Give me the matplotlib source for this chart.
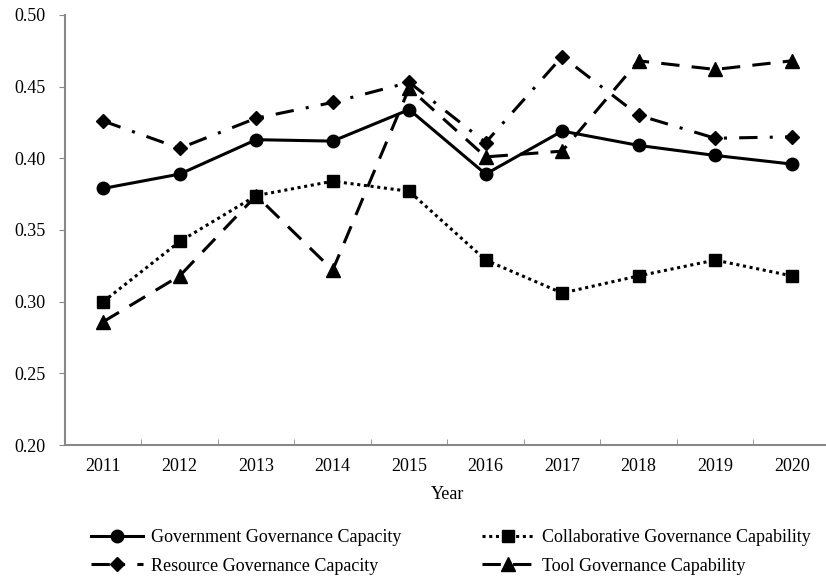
import matplotlib
matplotlib.use('Agg')
import matplotlib.pyplot as plt
import numpy as np

plt.rcParams['font.family'] = ['Liberation Serif', 'DejaVu Serif']

years = ['2011', '2012', '2013', '2014', '2015', '2016', '2017', '2018', '2019', '2020']
government = [0.379, 0.389, 0.413, 0.412, 0.434, 0.389, 0.419, 0.409, 0.402, 0.396]
collaborative = [0.300, 0.342, 0.374, 0.384, 0.377, 0.329, 0.306, 0.318, 0.329, 0.318]
resource = [0.426, 0.407, 0.428, 0.439, 0.453, 0.411, 0.471, 0.430, 0.414, 0.415]
tool = [0.286, 0.318, 0.374, 0.322, 0.449, 0.401, 0.405, 0.468, 0.462, 0.468]
y_ticks = [0.20, 0.25, 0.30, 0.35, 0.40, 0.45, 0.50]

fig = plt.figure(figsize=(8.26, 5.78), dpi=100)
ax = fig.add_axes([0.0787, 0.2301, 0.926, 0.744])

x = np.arange(len(years))
l_gov, = ax.plot(x, government, color='black', linestyle='-', linewidth=2.2,
                 marker='o', markersize=9, label='Government Governance Capacity')
l_col, = ax.plot(x, collaborative, color='black', linestyle=(0, (1, 1.2)), linewidth=2.2,
                 marker='s', markersize=9, label='Collaborative Governance Capability')
l_res, = ax.plot(x, resource, color='black', linestyle=(0, (6, 4, 1, 4)), linewidth=2.2,
                 marker='D', markersize=7.5, label='Resource Governance Capacity')
l_tool, = ax.plot(x, tool, color='black', linestyle=(0, (6, 4)), linewidth=2.2,
                  marker='^', markersize=9.5, label='Tool Governance Capability')

ax.set_xlim(-0.5, len(years) - 0.5)
ax.set_ylim(0.20, 0.50)
ax.set_xticks(x)
ax.set_xticklabels(years)
ax.set_xticks(np.arange(0.5, len(years) - 0.5, 1), minor=True)
ax.set_yticks(y_ticks)
ax.set_yticklabels(['%.2f' % v for v in y_ticks])
ax.tick_params(axis='x', which='major', length=0, labelsize=13, pad=9)
ax.tick_params(axis='x', which='minor', length=4, direction='in', color='#888888')
ax.tick_params(axis='y', length=4, direction='out', color='#888888', labelsize=13, pad=10)

for s in ['top', 'right']:
    ax.spines[s].set_visible(False)
for s in ['left', 'bottom']:
    ax.spines[s].set_color('#888888')
    ax.spines[s].set_linewidth(1.5)

ax.set_xlabel('Year', fontsize=13, labelpad=8)

# legend fills column-wise, so order gives rows Gov/Collab then Resource/Tool
fig.legend([l_gov, l_res, l_col, l_tool],
           [l.get_label() for l in [l_gov, l_res, l_col, l_tool]],
           loc='upper left', bbox_to_anchor=(0.095, 0.106), ncol=2, frameon=False,
           fontsize=13, handlelength=2.9, columnspacing=4.5, labelspacing=0.62,
           handletextpad=0.4, borderpad=0.2)

fig.savefig('out.png', dpi=100)
